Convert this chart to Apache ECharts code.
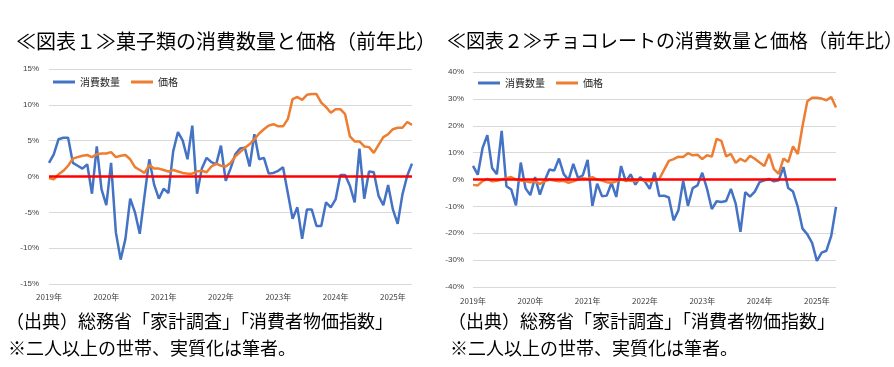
<!DOCTYPE html>
<html><head><meta charset="utf-8">
<script src="https://cdn.jsdelivr.net/npm/echarts@6/dist/echarts.min.js"></script>
<style>html,body{margin:0;padding:0;background:#fff}#c{width:894px;height:367px}</style>
</head><body><div id="c"></div>
<script>
const yearLabels = ['2019年','2020年','2021年','2022年','2023年','2024年','2025年'];
const months = [];
for (let y = 2019; y <= 2025; y++) for (let m = 1; m <= 12; m++) if (months.length < 77) months.push(y + '/' + m);

// 図表1 菓子類 (%)
const sweetsQty = [1.9,3.1,5.2,5.4,5.4,1.9,1.5,1.1,1.7,-2.4,4.2,-1.8,
  -4.0,1.9,-7.8,-11.6,-8.7,-3.1,-5.0,-8.0,-2.7,2.4,-1.1,-3.1,
  -1.7,-2.3,3.5,6.2,5.0,2.4,7.1,-2.4,1.1,2.6,2.0,1.7,
  4.3,-0.6,1.1,3.1,3.9,4.0,1.4,5.9,2.4,2.6,0.4,0.5,
  0.8,1.3,-2.3,-5.9,-4.3,-8.7,-4.6,-4.6,-6.9,-6.9,-3.6,-4.3,
  -3.2,0.2,0.2,-1.3,-3.6,3.9,-3.1,0.7,0.6,-2.7,-4.0,-1.2,
  -4.6,-6.6,-2.5,0.1,1.8];
const sweetsPrice = [-0.2,-0.4,0.3,0.8,1.5,2.5,2.7,2.9,3.0,2.7,3.1,3.2,
  3.2,3.4,2.7,2.9,3.0,2.4,1.3,0.9,0.5,1.6,1.1,1.1,
  0.9,0.7,0.9,0.7,0.5,0.4,0.4,0.7,0.8,0.6,1.4,1.8,
  1.5,1.4,1.9,2.8,3.4,4.0,4.5,5.2,6.0,6.6,7.1,7.3,
  7.0,7.0,8.0,10.8,11.1,10.7,11.4,11.5,11.5,10.3,9.7,8.9,
  9.4,9.4,8.7,5.6,4.9,4.9,4.2,4.1,3.3,4.4,5.5,5.9,
  6.6,6.8,6.8,7.6,7.2];

// 図表2 チョコレート (%)
const chocoQty = [5.1,1.8,11.7,16.5,4.3,2.0,18.1,-2.5,-3.7,-9.6,6.3,-3.3,
  -5.8,0.9,-5.6,-0.5,3.7,3.3,7.8,2.0,-0.2,5.8,0.5,1.6,
  7.3,-9.8,-1.6,-6.2,-6.0,-1.3,-6.5,5.0,-0.8,1.9,-1.9,0.9,
  -0.8,-3.5,2.6,-6.1,-6.0,-6.7,-15.2,-11.5,-0.5,-9.8,-3.2,-2.2,
  2.5,-3.5,-11.0,-8.1,-8.4,-8.0,-3.5,-9.0,-19.5,-4.7,-6.4,-4.5,
  -1.0,-0.3,0.2,-0.7,-0.3,4.6,-3.2,-4.5,-10.2,-18.3,-20.4,-23.6,
  -30.3,-27.2,-26.5,-21.0,-10.2];
const chocoPrice = [-2.0,-2.2,-0.6,0.2,-0.7,-0.5,0.0,0.5,0.9,0.0,-0.4,-0.7,
  -1.0,-0.7,-1.6,-0.7,0.0,-0.4,-0.7,-0.5,-1.2,-0.7,0.0,0.5,
  0.2,0.9,0.0,-0.4,-1.0,-1.2,-0.7,0.0,-0.4,-0.5,-0.7,0.0,
  -0.5,-0.7,-0.4,0.2,3.6,6.9,7.6,8.5,8.4,9.8,9.0,9.2,
  7.6,9.0,8.5,15.1,14.4,8.6,9.5,6.2,7.7,6.7,8.8,7.7,
  6.3,5.0,9.5,3.9,2.1,7.8,6.5,12.3,9.5,20.0,29.1,30.4,
  30.4,30.1,29.5,30.7,26.8];

const titles = ['≪図表１≫菓子類の消費数量と価格（前年比）', '≪図表２≫チョコレートの消費数量と価格（前年比）'];
const notes = ['（出典）総務省「家計調査」「消費者物価指数」', '※二人以上の世帯、実質化は筆者。'];
const seriesNames = ['消費数量', '価格'];

const BLUE = '#4472C4', ORANGE = '#ED7D31';
const CJK = '"Noto Sans CJK JP", sans-serif';
const LBL = 'Arial, "Liberation Sans", "Noto Sans CJK JP", sans-serif';

function xAxis(gi, margin) {
  return {
    type: 'category', gridIndex: gi, data: months, boundaryGap: false,
    axisLine: {show: false}, axisTick: {show: false}, splitLine: {show: false},
    axisLabel: {interval: 11, margin: margin, color: '#404040', fontSize: 8, fontFamily: CJK,
      formatter: (v, i) => yearLabels[Math.round(i / 12)]}
  };
}
function yAxis(gi, min, max, step, margin) {
  return {
    type: 'value', gridIndex: gi, min: min, max: max, interval: step,
    axisLine: {show: false}, axisTick: {show: false},
    splitLine: {lineStyle: {color: '#D9D9D9', width: 1}},
    axisLabel: {margin: margin, color: '#404040', fontSize: 8, fontFamily: LBL, formatter: v => v + '%'}
  };
}
function line(name, gi, data, color, withZero) {
  const s = {
    name: name, type: 'line', xAxisIndex: gi, yAxisIndex: gi, data: data,
    showSymbol: false, symbol: 'none', smooth: false,
    lineStyle: {color: color, width: 2.5}, itemStyle: {color: color}, z: withZero ? 2 : 3
  };
  if (withZero) {
    s.markLine = {silent: true, symbol: 'none', label: {show: false},
      lineStyle: {color: '#FF0000', width: 2.5, type: 'solid'},
      data: [{yAxis: 0}], z: 4};
  }
  return s;
}
function legend(left, top) {
  return {
    left: left, top: top, itemWidth: 22, itemHeight: 3, itemGap: 11, icon: 'rect',
    padding: 0, data: seriesNames,
    textStyle: {fontSize: 10, color: '#262626', fontFamily: CJK}
  };
}

const chart = echarts.init(document.getElementById('c'), null, {renderer: 'canvas'});
chart.setOption({
  animation: false,
  backgroundColor: '#fff',
  title: [
    {text: titles[0], left: 16, top: 31, padding: 0, textStyle: {fontSize: 20, fontWeight: 'normal', color: '#000', fontFamily: CJK}},
    {text: titles[1], left: 447, top: 31, padding: 0, textStyle: {fontSize: 19, fontWeight: 'normal', color: '#000', fontFamily: CJK}}
  ],
  legend: [legend(53, 77), legend(478, 78)],
  grid: [
    {left: 49, top: 69, width: 363, height: 215},
    {left: 473, top: 72, width: 363, height: 215}
  ],
  xAxis: [xAxis(0, 9), xAxis(1, 10)],
  yAxis: [yAxis(0, -15, 15, 5, 10), yAxis(1, -40, 40, 10, 9)],
  series: [
    line(seriesNames[0], 0, sweetsQty, BLUE, true),
    line(seriesNames[1], 0, sweetsPrice, ORANGE, false),
    line(seriesNames[0], 1, chocoQty, BLUE, true),
    line(seriesNames[1], 1, chocoPrice, ORANGE, false)
  ],
  graphic: [
    {type: 'text', left: 6, top: 312, style: {text: notes[0], fill: '#000', font: '18px ' + CJK}},
    {type: 'text', left: 8, top: 339, style: {text: notes[1], fill: '#000', font: '18px ' + CJK}},
    {type: 'text', left: 448, top: 312, style: {text: notes[0], fill: '#000', font: '18px ' + CJK}},
    {type: 'text', left: 450, top: 339, style: {text: notes[1], fill: '#000', font: '18px ' + CJK}}
  ]
});
</script></body></html>
